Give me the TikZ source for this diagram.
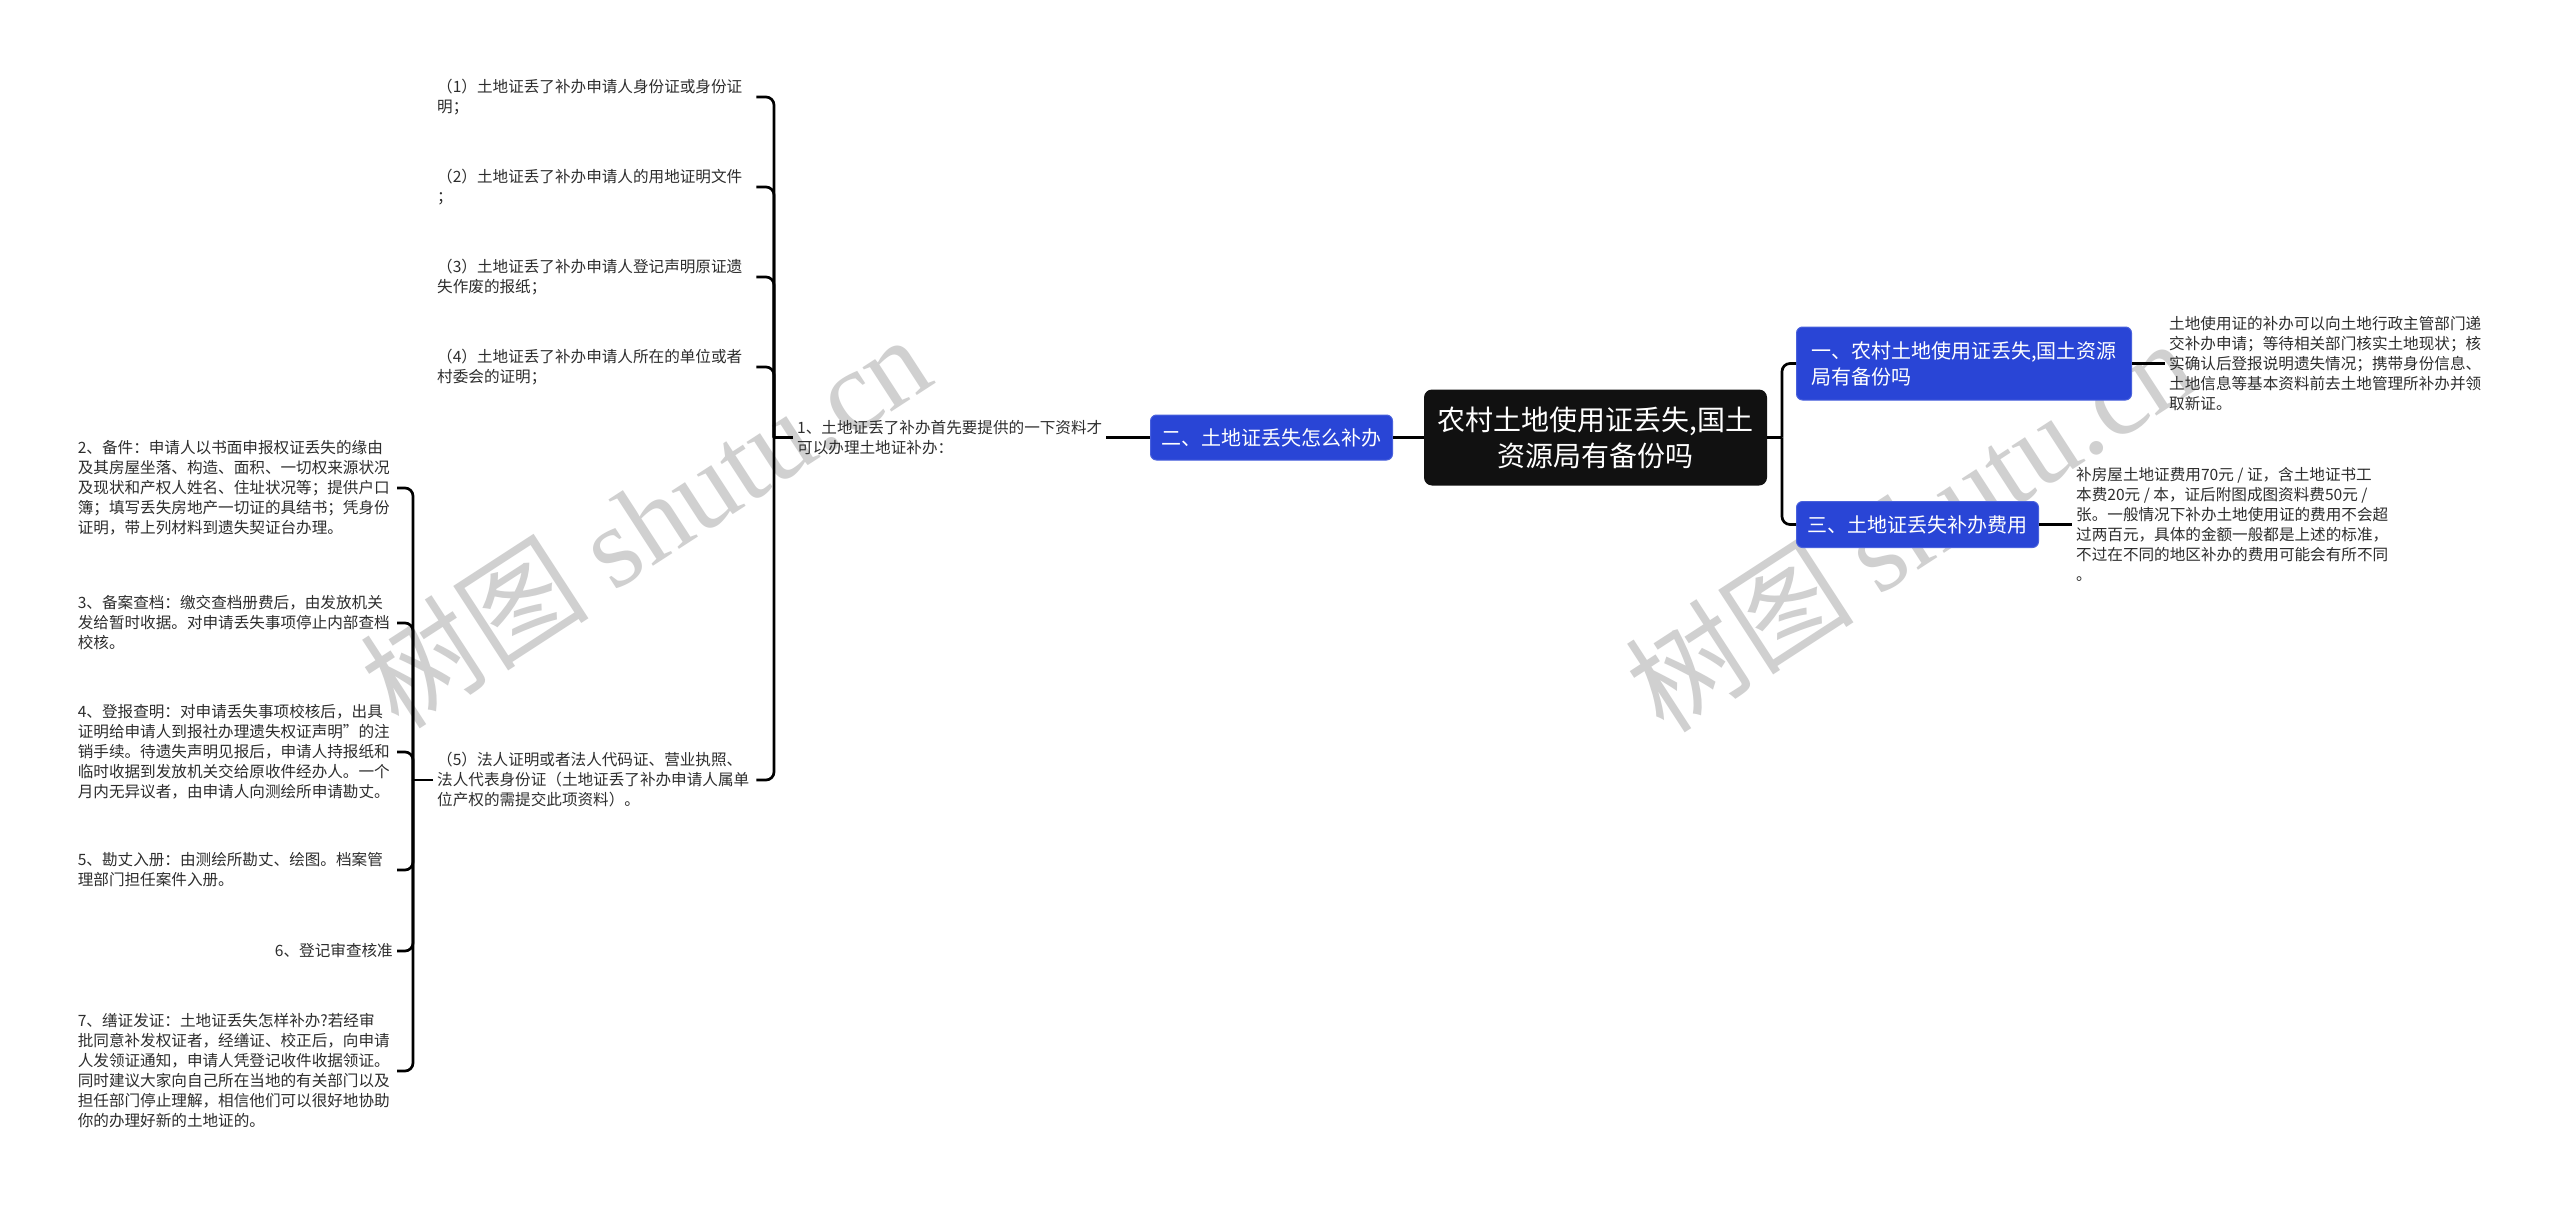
\documentclass[tikz,border=0pt]{standalone}
\usepackage{fontspec}
\newfontfamily\cjk{Noto Sans CJK SC}
\newfontfamily\wmserif{Liberation Serif}
\definecolor{nodeblue}{RGB}{41,69,214}
\definecolor{rootc}{RGB}{17,17,17}
\definecolor{txt}{RGB}{45,45,45}
\definecolor{wm}{RGB}{208,208,208}
\begin{document}
\begin{tikzpicture}[x=1pt,y=-1pt,
  conn/.style={line width=2.7pt, black, rounded corners=8pt},
  small/.style={font=\cjk\fontsize{15.6}{20}\selectfont, text=txt, align=left, inner xsep=4pt, inner ysep=2pt},
  smallw/.style={small, text width=315pt},
  rootbox/.style={fill=rootc, rounded corners=8pt, text=white, font=\cjk\fontsize{28}{36}\selectfont, align=center, minimum width=343pt, minimum height=96pt, inner sep=0pt},
  bluebox/.style={fill=nodeblue, draw=nodeblue!85!white, line width=1pt, rounded corners=6pt, text=white, font=\cjk\fontsize{20}{26}\selectfont, inner sep=0pt},
  wmk/.style={font=\cjk\fontsize{115}{115}\selectfont, text=wm, rotate=33, inner sep=0pt}
]
\fill[white] (0,0) rectangle (2560,1207);
\useasboundingbox (0,0) rectangle (2560,1207);

% watermarks
\node[wmk] (wm1) at (645,520) {树图 {\wmserif shutu.cn}};
\node[wmk] (wm2) at (1910,524) {树图 {\wmserif shutu.cn}};

% root and main branches
\node[rootbox] (root) at (1595.5,437.5) {农村土地使用证丢失,国土\\资源局有备份吗};
\node[bluebox, anchor=west, minimum width=335pt, minimum height=73pt, align=left] (b1) at (1796,363.5) {一、农村土地使用证丢失,国土资源\\局有备份吗};
\node[bluebox, anchor=west, minimum width=242pt, minimum height=46pt] (b3) at (1796,524.5) {三、土地证丢失补办费用};
\node[bluebox, anchor=east, minimum width=242pt, minimum height=45pt] (b2) at (1393,437.5) {二、土地证丢失怎么补办};

% right texts
\node[small, anchor=west] (r1) at (2165,363.5) {土地使用证的补办可以向土地行政主管部门递\\交补办申请；等待相关部门核实土地现状；核\\实确认后登报说明遗失情况；携带身份信息、\\土地信息等基本资料前去土地管理所补办并领\\取新证。};
\node[small, anchor=west] (r3) at (2072,524.5) {补房屋土地证费用70元 / 证，含土地证书工\\本费20元 / 本，证后附图成图资料费50元 /\\张。一般情况下补办土地使用证的费用不会超\\过两百元，具体的金额一般都是上述的标准，\\不过在不同的地区补办的费用可能会有所不同\\。};

% left branch
\node[small, anchor=west] (t1) at (793,437.5) {1、土地证丢了补办首先要提供的一下资料才\\可以办理土地证补办：};
\node[smallw, anchor=west] (p1) at (433,97) {（1）土地证丢了补办申请人身份证或身份证\\明；};
\node[smallw, anchor=west] (p2) at (433,187) {（2）土地证丢了补办申请人的用地证明文件\\；};
\node[smallw, anchor=west] (p3) at (433,277) {（3）土地证丢了补办申请人登记声明原证遗\\失作废的报纸；};
\node[smallw, anchor=west] (p4) at (433,367) {（4）土地证丢了补办申请人所在的单位或者\\村委会的证明；};
\node[smallw, anchor=west] (p5) at (433,780) {（5）法人证明或者法人代码证、营业执照、\\法人代表身份证（土地证丢了补办申请人属单\\位产权的需提交此项资料）。};

\node[smallw, anchor=east] (i2) at (397,488) {2、备件：申请人以书面申报权证丢失的缘由\\及其房屋坐落、构造、面积、一切权来源状况\\及现状和产权人姓名、住址状况等；提供户口\\簿；填写丢失房地产一切证的具结书；凭身份\\证明，带上列材料到遗失契证台办理。};
\node[smallw, anchor=east] (i3) at (397,623) {3、备案查档：缴交查档册费后，由发放机关\\发给暂时收据。对申请丢失事项停止内部查档\\校核。};
\node[smallw, anchor=east] (i4) at (397,752) {4、登报查明：对申请丢失事项校核后，出具\\证明给申请人到报社办理遗失权证声明”的注\\销手续。待遗失声明见报后，申请人持报纸和\\临时收据到发放机关交给原收件经办人。一个\\月内无异议者，由申请人向测绘所申请勘丈。};
\node[smallw, anchor=east] (i5) at (397,870) {5、勘丈入册：由测绘所勘丈、绘图。档案管\\理部门担任案件入册。};
\node[small, anchor=east] (i6) at (397,951) {6、登记审查核准};
\node[smallw, anchor=east] (i7) at (397,1071) {7、缮证发证：土地证丢失怎样补办?若经审\\批同意补发权证者，经缮证、校正后，向申请\\人发领证通知，申请人凭登记收件收据领证。\\同时建议大家向自己所在当地的有关部门以及\\担任部门停止理解，相信他们可以很好地协助\\你的办理好新的土地证的。};

% connectors
\coordinate (jr) at (1782,437.5);
\draw[conn] (root.east) -- (jr);
\draw[conn] (jr) |- (b1.west);
\draw[conn] (jr) |- (b3.west);
\draw[conn] (b1.east) -- (r1.west);
\draw[conn] (b3.east) -- (r3.west);
\draw[conn] (root.west) -- (b2.east);
\draw[conn] (b2.west) -- (t1.east);

\coordinate (j1) at (774,437.5);
\draw[conn] (t1.west) -- (j1);
\foreach \n in {p1,p2,p3,p4,p5} \draw[conn] (j1) |- (\n.east);

\coordinate (j2) at (413,780);
\draw[conn] (p5.west) -- (j2);
\foreach \n in {i2,i3,i4,i5,i6,i7} \draw[conn] (j2) |- (\n.east);
\end{tikzpicture}
\end{document}
